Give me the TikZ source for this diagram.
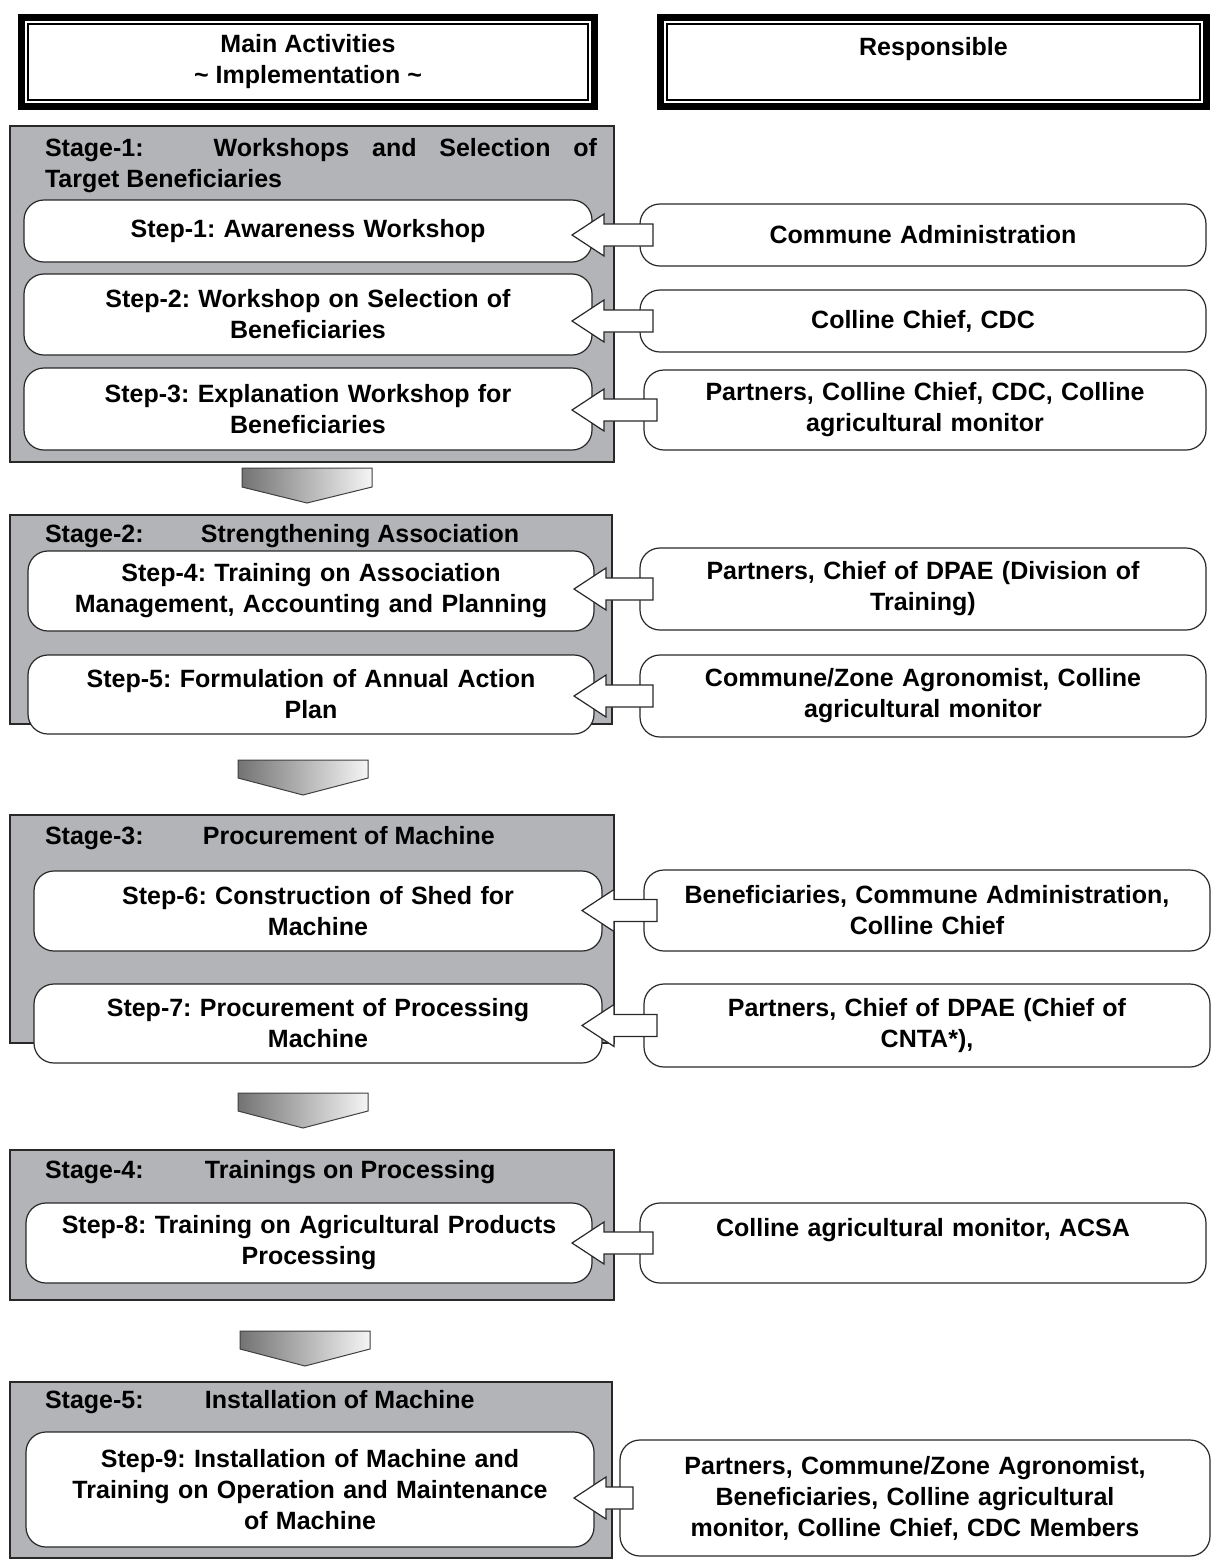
\documentclass[tikz,border=0pt]{standalone}
\usepackage{fontspec}
\setmainfont{Liberation Sans}
\usetikzlibrary{calc}
\definecolor{stagegray}{RGB}{179,180,183}
\definecolor{edge}{RGB}{40,40,40}
\frenchspacing

% hollow block arrow from a responsible box (#2) into its step box (#1)
\newcommand\feedarrow[2]{%
  \draw[hollow] ($(#2.west -| #1.east)+(-20,0)$) -- ++(32,-21) -- ++(0,10)
    -- ($(#2.west)+(13,-11)$) -- ($(#2.west)+(13,11)$)
    -- ($(#2.west -| #1.east)+(12,11)$) -- ++(0,10) -- cycle;}

\begin{document}
\begin{tikzpicture}[x=1pt,y=-1pt,
  every node/.style={font=\bfseries\fontsize{25}{31}\selectfont, inner sep=0pt, outer sep=0pt},
  headbox/.style={draw=black, line width=7pt, fill=white, minimum width=#1, minimum height=89pt, align=center},
  stagebox/.style={draw=edge, line width=2.5pt, fill=stagegray},
  stepbox/.style={draw=edge, line width=1.2pt, fill=white, rounded corners=20pt, align=center, text width=540pt},
  whobox/.style={draw=edge, line width=1.2pt, fill=white, rounded corners=20pt, align=center, text width=540pt},
  titletext/.style={anchor=west, align=left},
  hollow/.style={draw=edge, line width=1.2pt, fill=white, line join=miter},
  chevron/.style={draw=black!75, line width=1pt, left color=black!55, right color=black!4},
]
\useasboundingbox (0,0) rectangle (1213,1561);
\fill[white] (0,0) rectangle (1213,1561);

% column headers
\node[headbox=573pt] (hl) at (308,62) {Main Activities\\\textasciitilde{} Implementation \textasciitilde};
\draw[line width=1.5pt] ($(hl.north west)+(6.5,6.5)$) rectangle ($(hl.south east)+(-6.5,-6.5)$);
\node[headbox=546pt] (hr) at (933.5,62) {Responsible\\\phantom{X}};
\draw[line width=1.5pt] ($(hr.north west)+(6.5,6.5)$) rectangle ($(hr.south east)+(-6.5,-6.5)$);

% stage panels
\node[stagebox, minimum width=604pt, minimum height=336pt] (g1) at (312,294) {};
\node[stagebox, minimum width=602pt, minimum height=209pt] (g2) at (311,619.5) {};
\node[stagebox, minimum width=604pt, minimum height=228pt] (g3) at (312,929) {};
\node[stagebox, minimum width=604pt, minimum height=150pt] (g4) at (312,1225) {};
\node[stagebox, minimum width=602pt, minimum height=176pt] (g5) at (311,1470) {};

% stage titles
\node[titletext] (t1) at (45,166) {\makebox[552pt][l]{Stage-1:\hspace{70pt}Workshops\hfill and\hfill Selection\hfill of}\\Target Beneficiaries};
\node[titletext] (t2) at (45,536) {\makebox[156pt][l]{Stage-2:}Strengthening Association};
\node[titletext] (t3) at (45,838) {\makebox[158pt][l]{Stage-3:}Procurement of Machine};
\node[titletext] (t4) at (45,1172) {\makebox[160pt][l]{Stage-4:}Trainings on Processing};
\node[titletext] (t5) at (45,1402) {\makebox[160pt][l]{Stage-5:}Installation of Machine};

% steps
\node[stepbox, minimum width=568pt, minimum height=62pt] (s1) at (308,231) {Step-1: Awareness Workshop};
\node[stepbox, minimum width=568pt, minimum height=81pt] (s2) at (308,314.5) {Step-2: Workshop on Selection of\\Beneficiaries};
\node[stepbox, minimum width=568pt, minimum height=82pt] (s3) at (308,409) {Step-3: Explanation Workshop for\\Beneficiaries};
\node[stepbox, minimum width=566pt, minimum height=80pt] (s4) at (311,591) {Step-4: Training on Association\\Management, Accounting and Planning};
\node[stepbox, minimum width=566pt, minimum height=79pt] (s5) at (311,694.5) {Step-5: Formulation of Annual Action\\Plan};
\node[stepbox, minimum width=568pt, minimum height=80pt] (s6) at (318,911) {Step-6: Construction of Shed for\\Machine};
\node[stepbox, minimum width=568pt, minimum height=79pt] (s7) at (318,1023.5) {Step-7: Procurement of Processing\\Machine};
\node[stepbox, minimum width=566pt, minimum height=80pt] (s8) at (309,1243) {Step-8: Training on Agricultural Products\\Processing};
\node[stepbox, minimum width=568pt, minimum height=115pt] (s9) at (310,1489.5) {Step-9: Installation of Machine and\\Training on Operation and Maintenance\\of Machine};

% responsible parties
\node[whobox, minimum width=566pt, minimum height=62pt] (r1) at (923,235) {Commune Administration};
\node[whobox, minimum width=566pt, minimum height=62pt] (r2) at (923,321) {Colline Chief, CDC};
\node[whobox, minimum width=562pt, minimum height=80pt] (r3) at (925,410) {Partners, Colline Chief, CDC, Colline\\agricultural monitor};
\node[whobox, minimum width=566pt, minimum height=82pt] (r4) at (923,589) {Partners, Chief of DPAE (Division of\\Training)};
\node[whobox, minimum width=566pt, minimum height=82pt] (r5) at (923,696) {Commune/Zone Agronomist, Colline\\agricultural monitor};
\node[whobox, minimum width=566pt, minimum height=81pt] (r6) at (927,910.5) {Beneficiaries, Commune Administration,\\Colline Chief};
\node[whobox, minimum width=566pt, minimum height=83pt] (r7) at (927,1025.5) {Partners, Chief of DPAE (Chief of\\CNTA*),};
\node[whobox, minimum width=566pt, minimum height=80pt] (r8) at (923,1243) {Colline agricultural monitor, ACSA\\\phantom{X}};
\node[whobox, text width=570pt, minimum width=590pt, minimum height=116pt] (r9) at (915,1498) {Partners, Commune/Zone Agronomist,\\Beneficiaries, Colline agricultural\\monitor, Colline Chief, CDC Members};

% arrows from responsible parties into the steps
\feedarrow{s1}{r1}
\feedarrow{s2}{r2}
\feedarrow{s3}{r3}
\feedarrow{s4}{r4}
\feedarrow{s5}{r5}
\feedarrow{s6}{r6}
\feedarrow{s7}{r7}
\feedarrow{s8}{r8}
\feedarrow{s9}{r9}

% chevrons between stages
\shadedraw[chevron] (242,468) -- (372,468) -- (372,487) -- (307,503) -- (242,487) -- cycle;
\shadedraw[chevron] (238,760) -- (368,760) -- (368,778) -- (303,795) -- (238,778) -- cycle;
\shadedraw[chevron] (238,1093) -- (368,1093) -- (368,1111) -- (303,1128) -- (238,1111) -- cycle;
\shadedraw[chevron] (240,1331) -- (370,1331) -- (370,1349) -- (305,1366) -- (240,1349) -- cycle;
\end{tikzpicture}
\end{document}
